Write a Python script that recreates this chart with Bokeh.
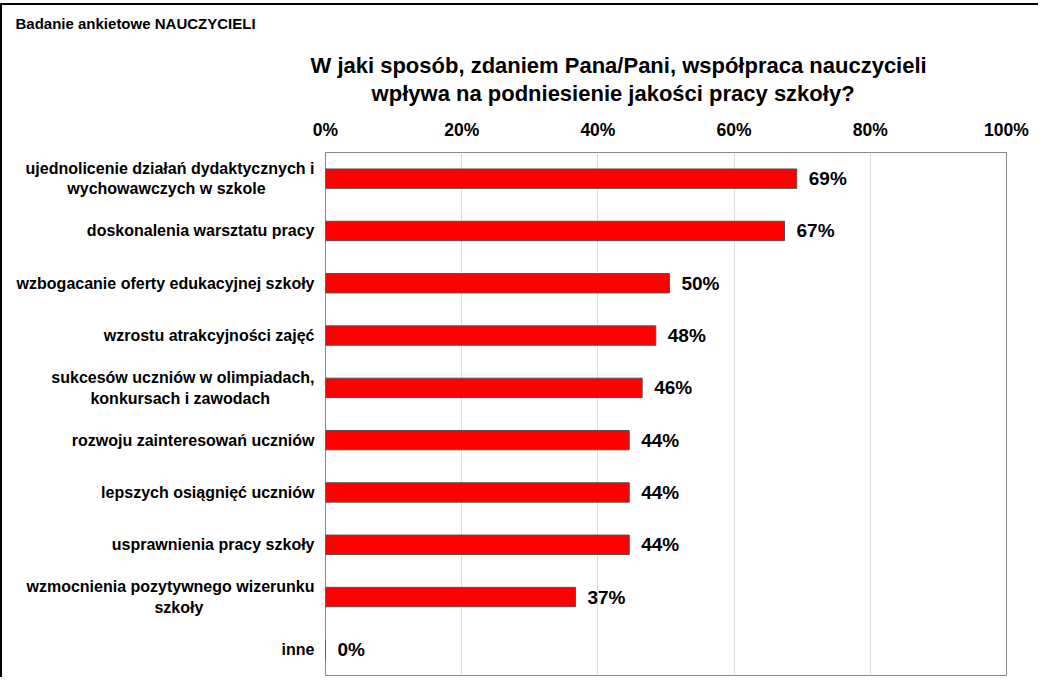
from bokeh.plotting import figure
from bokeh.models import ColumnDataSource, Title, NumeralTickFormatter, FixedTicker
from bokeh.core.properties import value
from bokeh.embed import file_html
from bokeh.resources import INLINE

NB = "\u00a0"
categories = [
    "ujednolicenie działań dydaktycznych i\nwychowawczych w szkole" + NB * 11,
    "doskonalenia warsztatu pracy",
    "wzbogacanie oferty edukacyjnej szkoły",
    "wzrostu atrakcyjności zajęć",
    "sukcesów uczniów w olimpiadach,\nkonkursach i zawodach" + NB * 10,
    "rozwoju zainteresowań uczniów",
    "lepszych osiągnięć uczniów",
    "usprawnienia pracy szkoły",
    "wzmocnienia pozytywnego wizerunku\nszkoły" + NB * 25,
    "inne",
]
values = [0.692, 0.674, 0.505, 0.485, 0.465, 0.446, 0.446, 0.446, 0.367, 0.0]
value_labels = ["69%", "67%", "50%", "48%", "46%", "44%", "44%", "44%", "37%", "0%"]
x_ticks = [0, 0.2, 0.4, 0.6, 0.8, 1.0]

header = "Badanie ankietowe NAUCZYCIELI"
title_text = ("W jaki sposób, zdaniem Pana/Pani,  współpraca nauczycieli\n"
              + NB * 10 + "wpływa na podniesienie jakości pracy szkoły?")

FONT = "Liberation Sans"

src = ColumnDataSource(dict(cat=categories, val=values, lab=value_labels))

p = figure(width=1038, height=674, y_range=list(reversed(categories)), x_range=(0, 1),
           output_backend="svg", toolbar_location=None, x_axis_location="above",
           min_border_left=323, min_border_top=0, min_border_right=34, min_border_bottom=4)
p.title.visible = False
p.styles = {"border-top": "2px solid black", "border-left": "2px solid black",
            "margin-top": "3px"}

p.hbar(y="cat", right="val", left=0, height=0.37, source=src,
       fill_color="#FF0000", line_color="#505050", line_width=1)
p.text(x="val", y="cat", text="lab", source=src, x_offset=12,
       text_font=value(FONT), text_font_style="bold", text_font_size="19px",
       text_baseline="middle", text_align="left", text_color="black")

xa = p.xaxis[0]
xa.ticker = FixedTicker(ticks=x_ticks)
xa.formatter = NumeralTickFormatter(format="0%")
xa.axis_line_color = None
xa.major_tick_line_color = None
xa.minor_tick_line_color = None
xa.major_label_text_font = FONT
xa.major_label_text_font_style = "bold"
xa.major_label_text_font_size = "17.5px"
xa.major_label_text_color = "black"
xa.major_label_standoff = 7

ya = p.yaxis[0]
ya.axis_line_color = None
ya.major_tick_line_color = None
ya.minor_tick_line_color = None
ya.major_label_text_font = FONT
ya.major_label_text_font_style = "bold"
ya.major_label_text_font_size = "16px"
ya.major_label_text_color = "black"
ya.major_label_standoff = 5

p.xgrid.grid_line_color = "#DDDDDD"
p.ygrid.grid_line_color = None
p.outline_line_color = "#888888"
p.outline_line_width = 1

p.add_layout(Title(text=title_text, align="left", offset=-15, text_font=FONT,
                   text_color="black", text_font_style="bold", text_font_size="22px",
                   text_line_height=1.1, standoff=22), "above")
p.add_layout(Title(text=header, align="left", offset=-310, text_font=FONT,
                   text_color="black", text_font_style="bold", text_font_size="15px",
                   standoff=15), "above")

open("out.html", "w").write(file_html(p, INLINE))
